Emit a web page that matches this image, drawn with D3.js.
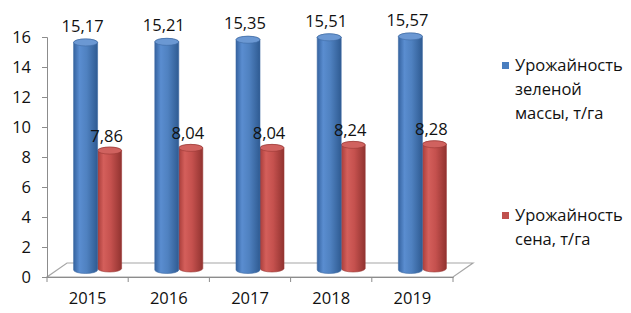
<!DOCTYPE html>
<html>
<head>
<meta charset="utf-8">
<script src="https://d3js.org/d3.v7.min.js"></script>
<style>
  body { margin: 0; background: #fff; }
  text { font-family: "Open Sans", sans-serif; fill: #111; }
</style>
</head>
<body>
<script>
// data
var years = ["2015", "2016", "2017", "2018", "2019"];
var greenMass = [15.17, 15.21, 15.35, 15.51, 15.57];
var hay = [7.86, 8.04, 8.04, 8.24, 8.28];
var seriesNames = [["Урожайность", "зеленой", "массы, т/га"], ["Урожайность", "сена, т/га"]];
var yTicks = [0, 2, 4, 6, 8, 10, 12, 14, 16];

var W = 631, H = 313;
var depth = {x: 20, y: -14}; // floor depth offset
var mid = {x: depth.x / 2, y: depth.y / 2};
var fs = "16.5px";

var svg = d3.select("body").append("svg")
    .attr("width", W).attr("height", H);

var x = d3.scaleBand().domain(years).range([47, 453]);
var inner = d3.scaleBand().domain([0, 1]).range([-24, 24]);
var y = d3.scaleLinear().domain([0, 16]).range([277, 37]);

// gradients for the cylinders
var defs = svg.append("defs");
function grad(id, stops) {
  var g = defs.append("linearGradient").attr("id", id)
      .attr("x1", "0%").attr("x2", "100%").attr("y1", "0%").attr("y2", "0%");
  stops.forEach(function(s) {
    g.append("stop").attr("offset", s[0]).attr("stop-color", s[1]);
  });
}
grad("gBlue", [["0%", "#3563a0"], ["25%", "#5a8dd0"], ["55%", "#4f81c0"], ["100%", "#2f5b92"]]);
grad("gRed", [["0%", "#a83d3a"], ["25%", "#d45f5b"], ["55%", "#c5514e"], ["100%", "#913330"]]);
var colors = [{side: "url(#gBlue)", top: "#6b98d3", edge: "#3e6aa3", legend: "#4a7ebf"},
              {side: "url(#gRed)", top: "#d0625f", edge: "#9a3935", legend: "#c0504d"}];

// floor
var fl = [[47, 277], [453, 277], [453 + depth.x, 277 + depth.y], [47 + depth.x, 277 + depth.y]];
svg.append("path")
    .attr("d", "M" + fl[0] + "L" + fl[1] + "L" + fl[2] + "L" + fl[3] + "Z")
    .attr("fill", "none").attr("stroke", "#a6a6a6").attr("stroke-width", 1.2);

// y axis
var yAxis = svg.append("g")
    .attr("transform", "translate(47,0)")
    .call(d3.axisLeft(y).tickValues(yTicks).tickSize(5).tickPadding(11).tickFormat(d3.format("d")));
yAxis.select(".domain").attr("stroke", "#8c8c8c");
yAxis.selectAll(".tick line").attr("stroke", "#8c8c8c");
yAxis.selectAll("text").style("font-size", fs).attr("fill", "#111");

// x axis
var xAxis = svg.append("g")
    .attr("transform", "translate(0,277)")
    .call(d3.axisBottom(x).tickSize(0).tickPadding(15));
xAxis.select(".domain").attr("stroke", "#8c8c8c");
xAxis.selectAll("text").style("font-size", fs).attr("fill", "#111");
var bounds = years.map(function(d) { return x(d); }).concat([x.range()[1]]);
xAxis.selectAll(".xt").data(bounds).enter().append("line")
    .attr("x1", function(d) { return d; }).attr("x2", function(d) { return d; })
    .attr("y1", 0).attr("y2", 5).attr("stroke", "#8c8c8c");

// cylinders
var rx = 12, ry = 3.5;
function cylinder(cx, yTop, yBot) {
  return "M" + (cx - rx) + "," + yTop +
    "L" + (cx - rx) + "," + yBot +
    "A" + rx + "," + ry + " 0 0 0 " + (cx + rx) + "," + yBot +
    "L" + (cx + rx) + "," + yTop +
    "A" + rx + "," + ry + " 0 0 0 " + (cx - rx) + "," + yTop + "Z";
}

var series = [greenMass, hay];
var bars = svg.append("g");
[1, 0].forEach(function(s) {
  series[s].forEach(function(v, i) {
    var cx = x(years[i]) + x.bandwidth() / 2 + inner(s) + inner.bandwidth() / 2 + mid.x;
    var base = y(0) + mid.y - s * 1.5;
    var top = y(v) + mid.y - s * 1.5;
    var g = bars.append("g");
    g.append("path").attr("d", cylinder(cx, top, base))
        .attr("fill", colors[s].side).attr("stroke", colors[s].edge).attr("stroke-width", 0.6);
    g.append("ellipse").attr("cx", cx).attr("cy", top).attr("rx", rx).attr("ry", ry)
        .attr("fill", colors[s].top).attr("stroke", colors[s].edge).attr("stroke-width", 0.6);
  });
});

// data labels
[0, 1].forEach(function(s) {
  svg.append("g").selectAll("text").data(series[s]).enter().append("text")
      .attr("x", function(d, i) {
        return x(years[i]) + x.bandwidth() / 2 + inner(s) + inner.bandwidth() / 2 + mid.x - 3;
      })
      .attr("y", function(d) { return y(d) + mid.y - 10.5; })
      .attr("text-anchor", "middle")
      .style("font-size", fs)
      .text(function(d) { return d.toFixed(2).replace(".", ","); });
});

// legend
var legendY = [62, 212];
seriesNames.forEach(function(lines, s) {
  var lg = svg.append("g").attr("transform", "translate(502," + legendY[s] + ")");
  lg.append("rect").attr("width", 7).attr("height", 7).attr("fill", colors[s].legend);
  lines.forEach(function(t, k) {
    lg.append("text").attr("x", 13).attr("y", 9 + k * 24)
        .style("font-size", fs).text(t);
  });
});
</script>
</body>
</html>
